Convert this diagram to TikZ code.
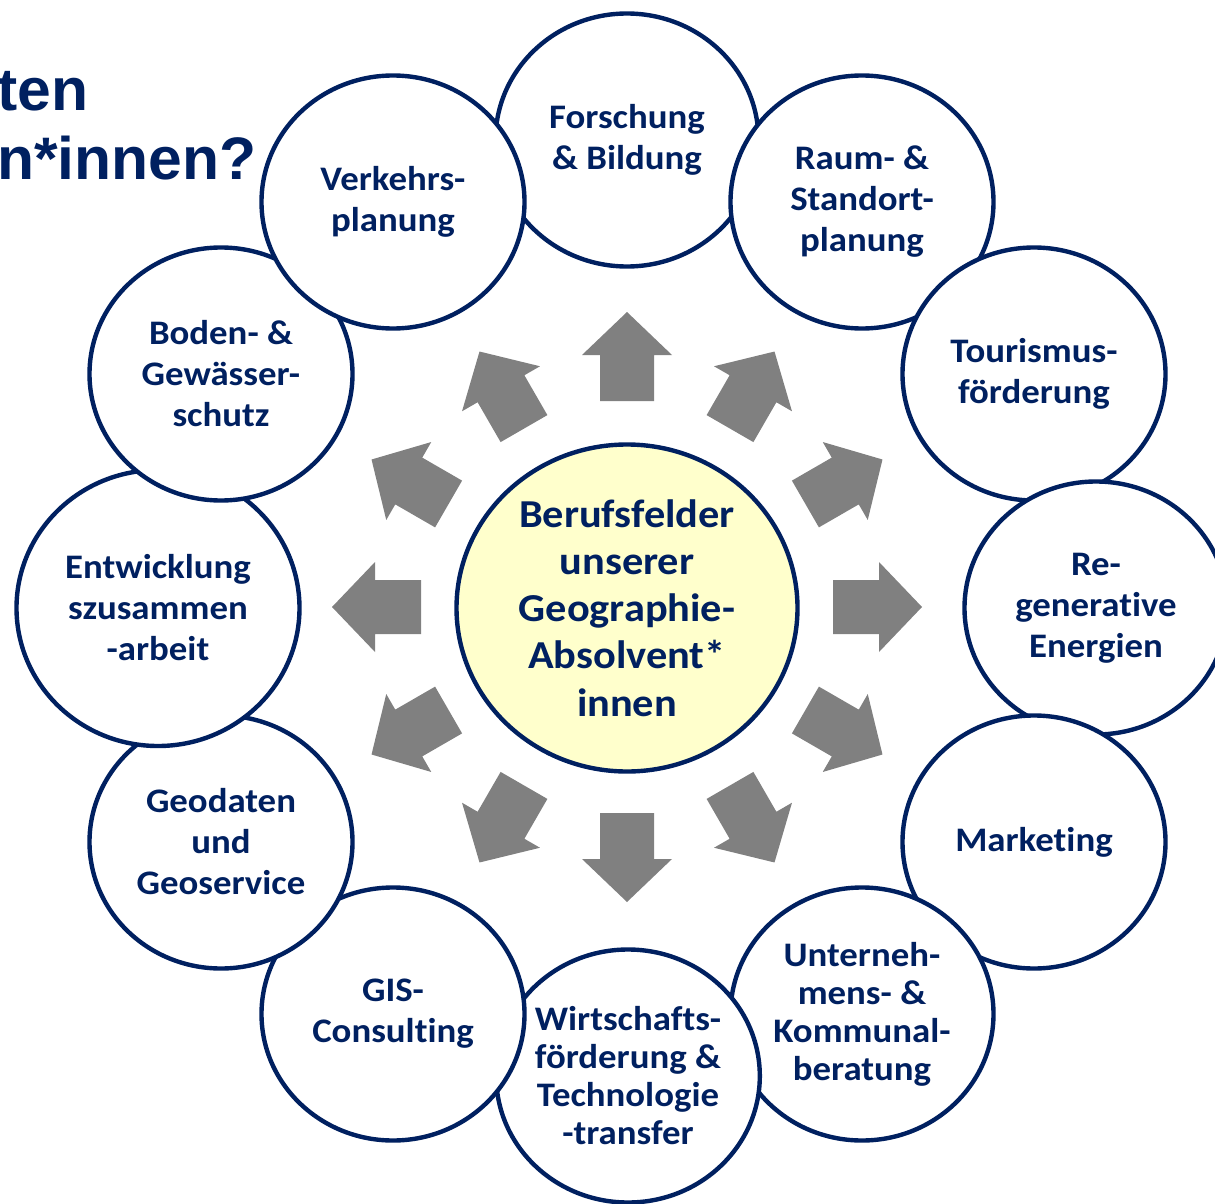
\documentclass[tikz,border=0pt]{standalone}
\usepackage{fontspec}
\setmainfont{Carlito}[FakeStretch=1.07,Ligatures=NoCommon]
\newfontfamily\titlefont{Liberation Sans}[FakeStretch=1.01]
\usetikzlibrary{shapes.geometric}
\definecolor{navy}{HTML}{002060}
\definecolor{paleyellow}{HTML}{FFFFCC}
\definecolor{arrowgray}{HTML}{808080}
\tikzset{
  field/.style={ellipse, draw=navy, line width=2.2pt, fill=white, inner sep=0pt,
    minimum width=131.5pt, minimum height=126.5pt, text=navy,
    font=\bfseries\fontsize{17.2}{20.5}\selectfont, align=center},
  tightfield/.style={field, font=\bfseries\fontsize{17.2}{19}\selectfont},
  widefield/.style={field, minimum width=141.5pt, minimum height=138pt},
  hub/.style={ellipse, draw=navy, line width=2.2pt, fill=paleyellow, inner sep=0pt,
    minimum width=170.5pt, minimum height=163.5pt, text=navy,
    font=\bfseries\fontsize{19.8}{23.6}\selectfont, align=center},
  outarrow/.style={fill=arrowgray},
  heading/.style={text=navy, font=\titlefont\bfseries\fontsize{30}{36}\selectfont,
    anchor=base west, inner sep=0pt}
}
\begin{document}
\begin{tikzpicture}[x=0.5pt,y=-0.5pt]
\useasboundingbox (0,0) rectangle (1215,1204);
% heading (cut off at the left edge)
\node[heading] (t1) at (-3,111) {ten};
\node[heading] (t2) at (-3,179) {n*innen?};
% centre
\node[hub] (hub) at (627,608) {Berufsfelder\\unserer\\Geographie-\\Absolvent*\\innen};
% block arrows
\foreach \a in {0,30,...,330}
  \fill[outarrow, shift={(627,607)}, rotate=\a]
    (206,-27) -- (252,-27) -- (252,-45) -- (295,0) -- (252,45) -- (252,27) -- (206,27) -- cycle;
% outer fields, clockwise from the top
\node[field] (f1) at (627,140) {Forschung\\\& Bildung};
\node[field] (f2) at (862,202) {Raum- \&\\Standort-\\planung};
\node[field] (f3) at (1034,374) {Tourismus-\\förderung};
\node[field] (f4) at (1096,608) {Re-\\generative\\Energien};
\node[field] (f5) at (1034,842) {Marketing};
\node[tightfield] (f6) at (862,1014) {Unterneh-\\mens- \&\\Kommunal-\\beratung};
\node[tightfield] (f7) at (628,1076) {Wirtschafts-\\förderung \&\\Technologie\\-transfer};
\node[field] (f8) at (393,1014) {GIS-\\Consulting};
\node[field] (f9) at (221,842) {Geodaten\\und\\Geoservice};
\node[widefield] (f10) at (158,608) {Entwicklung\\szusammen\\-arbeit};
\node[field] (f11) at (221,374) {Boden- \&\\Gewässer-\\schutz};
\node[field] (f12) at (393,202) {Verkehrs-\\planung};
\end{tikzpicture}
\end{document}
